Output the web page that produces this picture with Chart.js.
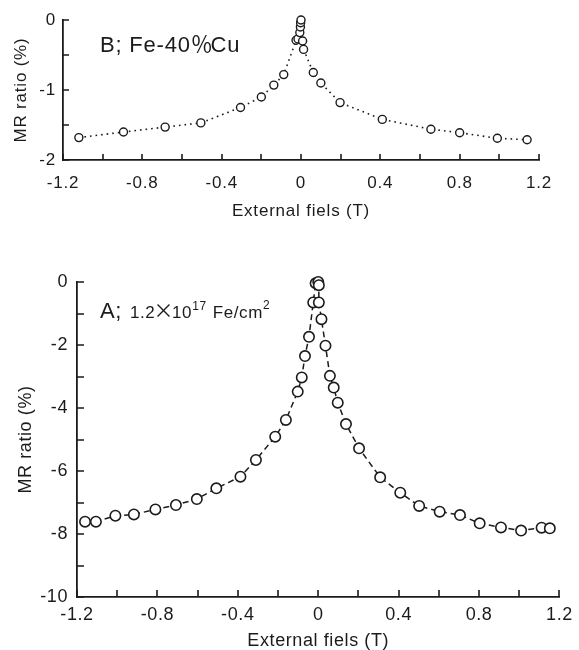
<!DOCTYPE html>
<html>
<head>
<meta charset="utf-8">
<script src="https://cdn.jsdelivr.net/npm/chart.js@4"></script>
<style>
    body { margin: 0; background: #fff; width: 579px; height: 650px; position: relative; overflow: hidden; }
    canvas { position: absolute; left: 0; }
    #chartB { top: 0; }
    #chartA { top: 240px; }
</style>
</head>
<body>
<canvas id="chartB" width="579" height="230"></canvas>
<canvas id="chartA" width="579" height="410"></canvas>
<script>
// B; Fe-40%Cu  (top panel)
const fieldB = [-1.12, -0.895, -0.685, -0.505, -0.305, -0.20, -0.137, -0.087, -0.025, -0.015, -0.006, -0.003, -0.002, 0,
    0.008, 0.013, 0.062, 0.10, 0.197, 0.41, 0.655, 0.80, 0.99, 1.14];
const mrB = [-1.68, -1.60, -1.53, -1.47, -1.25, -1.10, -0.93, -0.78, -0.29, -0.27, -0.18, -0.10, -0.04, 0,
    -0.30, -0.42, -0.75, -0.90, -1.18, -1.42, -1.56, -1.61, -1.69, -1.71];

// A; 1.2x10^17 Fe/cm^2  (bottom panel)
const fieldA = [-1.16, -1.106, -1.009, -0.917, -0.81, -0.708, -0.604, -0.507, -0.387, -0.31, -0.214, -0.161, -0.102,
    -0.082, -0.066, -0.046, -0.025, -0.013, 0,
    0.003, 0.003, 0.016, 0.036, 0.058, 0.077, 0.097, 0.138, 0.203, 0.308, 0.408, 0.502, 0.604, 0.705, 0.803,
    0.909, 1.009, 1.111, 1.152];
const mrA = [-7.61, -7.61, -7.42, -7.38, -7.22, -7.08, -6.89, -6.55, -6.18, -5.65, -4.91, -4.38, -3.48,
    -3.03, -2.35, -1.74, -0.65, -0.04, 0,
    -0.10, -0.65, -1.18, -2.02, -2.98, -3.35, -3.83, -4.51, -5.28, -6.20, -6.69, -7.11, -7.29, -7.40, -7.66,
    -7.79, -7.89, -7.80, -7.82];

// tick labels
const xTickLabels = [-1.2, -0.8, -0.4, 0, 0.4, 0.8, 1.2];
const yTickLabelsB = [0, -1, -2];
const yTickLabelsA = [0, -2, -4, -6, -8, -10];

const ink = '#1b1b1b';
const fontFamily = '"Liberation Sans", Arial, Helvetica, sans-serif';

function toPoints(xs, ys) {
    return xs.map((x, i) => ({ x: x, y: ys[i] }));
}

function labelFor(list) {
    return function (value) {
        const hit = list.find(v => Math.abs(v - value) < 1e-6);
        if (hit === undefined) return '';
        return hit === 0 ? '0' : String(hit);
    };
}

// ticks pointing into the plot, drawn at every scale tick
const inwardTicks = {
    id: 'inwardTicks',
    beforeDraw(chart) {
        chart.ctx.letterSpacing = chart.options.plugins.inwardTicks.spacing || '0px';
    },
    afterDraw(chart, args, opts) {
        const ctx = chart.ctx;
        const area = chart.chartArea;
        const xs = chart.scales.x, ys = chart.scales.y;
        ctx.save();
        ctx.strokeStyle = ink;
        ctx.lineWidth = opts.width;
        ctx.beginPath();
        xs.ticks.forEach(t => {
            const px = Math.round(xs.getPixelForValue(t.value));
            ctx.moveTo(px, area.bottom);
            ctx.lineTo(px, area.bottom - opts.length);
        });
        ys.ticks.forEach(t => {
            const py = Math.round(ys.getPixelForValue(t.value));
            ctx.moveTo(area.left, py);
            ctx.lineTo(area.left + opts.length, py);
        });
        ctx.stroke();
        ctx.restore();
    }
};

// panel label text
const panelLabel = {
    id: 'panelLabel',
    afterDraw(chart, args, opts) {
        const ctx = chart.ctx;
        ctx.save();
        ctx.fillStyle = ink;
        ctx.textBaseline = 'alphabetic';
        ctx.textAlign = 'left';
        ctx.letterSpacing = opts.spacing || '0px';
        let x = opts.x;
        opts.parts.forEach(p => {
            ctx.font = p.size + 'px ' + (p.family || fontFamily);
            x += p.pre || 0;
            ctx.fillText(p.text, x, opts.y - (p.rise || 0));
            x += ctx.measureText(p.text).width + (p.gap || 0);
        });
        ctx.restore();
    }
};

function makeChart(id, cfg) {
    const ctx = document.getElementById(id).getContext('2d');
    return new Chart(ctx, {
        type: 'scatter',
        data: {
            datasets: [{
                data: toPoints(cfg.xs, cfg.ys),
                showLine: true,
                borderColor: ink,
                borderWidth: cfg.lineWidth,
                borderDash: cfg.dash,
                pointStyle: 'circle',
                pointRadius: cfg.radius,
                pointBorderWidth: cfg.pointBorder,
                pointBorderColor: ink,
                pointBackgroundColor: '#fff',
                backgroundColor: '#fff',
                tension: 0,
                clip: false
            }]
        },
        options: {
            responsive: false,
            animation: false,
            layout: { padding: cfg.padding },
            plugins: {
                legend: { display: false },
                tooltip: { enabled: false },
                inwardTicks: { length: cfg.tickLen, width: 1.6, spacing: cfg.spacing },
                panelLabel: cfg.label
            },
            scales: {
                x: {
                    type: 'linear',
                    min: -1.2,
                    max: 1.2,
                    afterFit: s => { s.height = cfg.xHeight; },
                    grid: { display: false, drawTicks: false },
                    border: { display: true, color: ink, width: 1.8 },
                    ticks: {
                        stepSize: 0.2,
                        autoSkip: false,
                        maxRotation: 0,
                        color: ink,
                        padding: cfg.xTickPad,
                        font: { family: fontFamily, size: cfg.fontSize },
                        callback: labelFor(xTickLabels)
                    },
                    title: {
                        display: true,
                        text: 'External fiels (T)',
                        color: ink,
                        font: { family: fontFamily, size: cfg.fontSize },
                        padding: { top: 0, bottom: cfg.xTitlePad }
                    }
                },
                y: {
                    type: 'linear',
                    min: cfg.yMin,
                    max: 0,
                    afterFit: s => { s.width = cfg.yWidth; },
                    grid: { display: false, drawTicks: false },
                    border: { display: true, color: ink, width: 1.8 },
                    ticks: {
                        stepSize: cfg.yStep,
                        autoSkip: false,
                        color: ink,
                        padding: cfg.yTickPad,
                        font: { family: fontFamily, size: cfg.fontSize },
                        callback: labelFor(cfg.yLabels)
                    },
                    title: {
                        display: true,
                        text: 'MR ratio (%)',
                        color: ink,
                        font: { family: fontFamily, size: cfg.fontSize },
                        padding: { top: cfg.yTitlePad, bottom: 0 }
                    }
                }
            }
        },
        plugins: [inwardTicks, panelLabel]
    });
}

document.addEventListener('DOMContentLoaded', function () {
    // Top panel: B
    makeChart('chartB', {
        xs: fieldB, ys: mrB,
        yMin: -2, yStep: 0.5, yLabels: yTickLabelsB,
        lineWidth: 1.6, dash: [1.6, 4], radius: 4, pointBorder: 1.4,
        padding: { top: 20, right: 40, left: 0, bottom: 0 },
        yWidth: 63, xHeight: 70,
        xTickPad: 13, yTickPad: 7, xTitlePad: 8, yTitlePad: 11,
        tickLen: 6, fontSize: 17, spacing: '0.8px',
        label: {
            x: 100, y: 52, spacing: '0.8px',
            parts: [
                { text: 'B; Fe-40', size: 22 },
                { text: '％', size: 22, family: '"Noto Sans CJK JP", sans-serif', gap: -3 },
                { text: 'Cu', size: 22 }
            ]
        }
    });

    // Bottom panel: A
    makeChart('chartA', {
        xs: fieldA, ys: mrA,
        yMin: -10, yStep: 1, yLabels: yTickLabelsA,
        lineWidth: 1.5, dash: [6, 4], radius: 5.2, pointBorder: 1.6,
        padding: { top: 42, right: 14, left: 0, bottom: 0 },
        yWidth: 77, xHeight: 53,
        xTickPad: 7, yTickPad: 9, xTitlePad: -2, yTitlePad: 15,
        tickLen: 7, fontSize: 18, spacing: '0.6px',
        label: {
            x: 100, y: 78, spacing: '0.6px',
            parts: [
                { text: 'A;', size: 22, gap: 8 },
                { text: '1.2', size: 17 },
                { text: '×', size: 20, family: '"Noto Sans CJK JP", sans-serif', pre: -2, gap: -2 },
                { text: '10', size: 17 },
                { text: '17', size: 12, rise: 8, gap: 6 },
                { text: 'Fe/cm', size: 17 },
                { text: '2', size: 12, rise: 9 }
            ]
        }
    });
});
</script>
</body>
</html>
